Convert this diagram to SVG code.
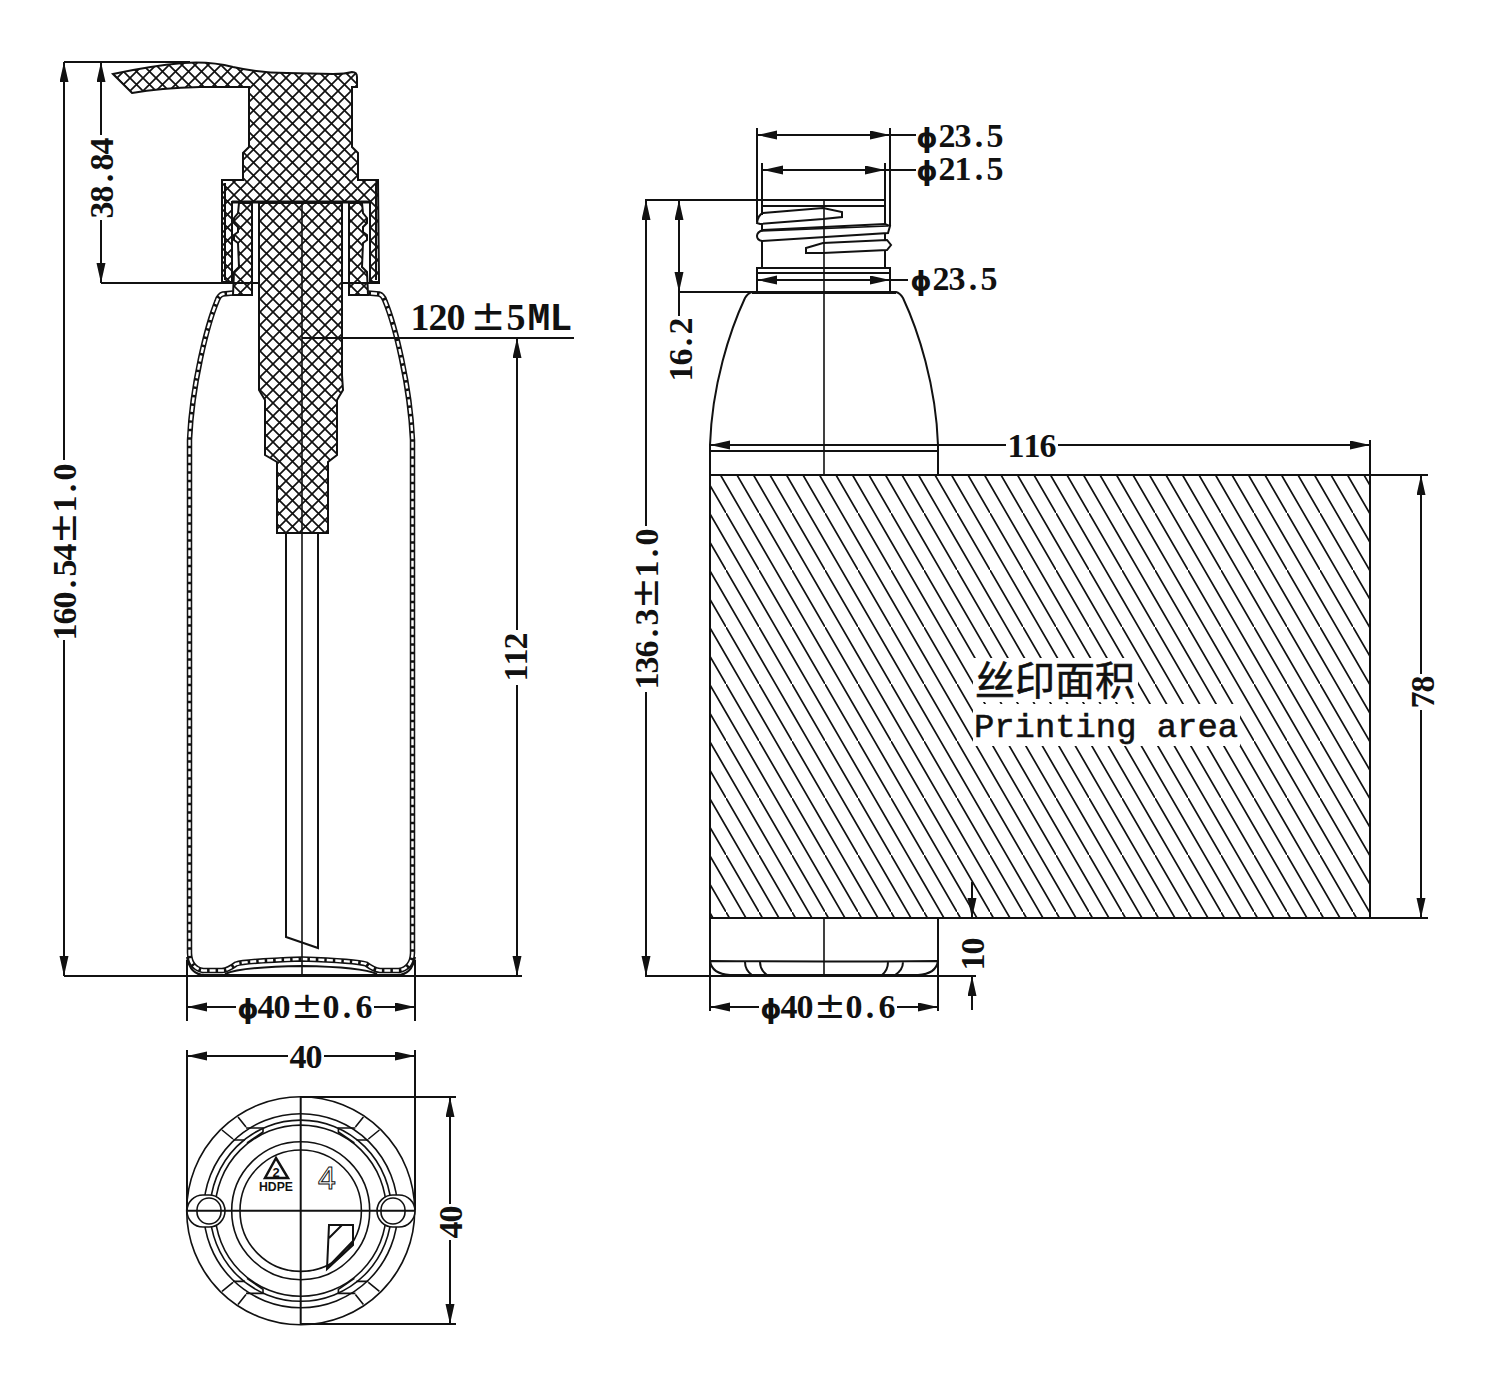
<svg xmlns="http://www.w3.org/2000/svg" width="1500" height="1387" viewBox="0 0 1500 1387">
<style>
.l{fill:none;stroke:#111;stroke-width:2}
.t1{fill:none;stroke:#111;stroke-width:1.6}
.h{stroke:#111;stroke-width:2;fill:url(#cross)}
.w{fill:#fff;stroke:#111;stroke-width:2}
.a{fill:none;stroke:#111;stroke-width:2;marker-start:url(#ar);marker-end:url(#ar)}
.e{fill:none;stroke:#111;stroke-width:2;marker-end:url(#ar)}
.wo{fill:none;stroke:#111;stroke-width:5.5}
.wi{fill:none;stroke:#fff;stroke-width:2.4;stroke-dasharray:6 2.5}
text{font-family:"Liberation Serif","Noto Sans CJK SC",serif;font-size:34px;font-weight:700;fill:#111;text-anchor:middle}
.pm{font-size:38px;font-family:"DejaVu Sans",sans-serif;font-weight:400}
.ph{font-family:"DejaVu Sans",sans-serif;font-size:27px;font-weight:700}
</style>
<defs>
<pattern id="cross" patternUnits="userSpaceOnUse" width="13" height="13"><rect width="13" height="13" fill="#fff"/><path d="M-1 -1L14 14M14 -1L-1 14" stroke="#111" stroke-width="1.7"/></pattern>
<pattern id="slant" patternUnits="userSpaceOnUse" width="33" height="57"><path d="M-33 -57L66 114M-16.5 -57L82.5 114M-49.5 -57L49.5 114" stroke="#111" stroke-width="1.7"/></pattern>
<marker id="ar" markerUnits="userSpaceOnUse" markerWidth="22" markerHeight="10" refX="20" refY="4.5" orient="auto-start-reverse"><path d="M0 0L20 4.5L0 9Z" fill="#111"/></marker>
<g id="quad"><path d="M238 1117L246 1127M222 1130L233 1139M246 1128H263V1132L247 1143M233 1140H245" class="t1"/></g>
</defs>
<rect width="1500" height="1387" fill="#fff"/>

<g id="front-view">
<path class="wo" d="M233 293L223 294Q219 295 217 301C207 325 192 385 189.5 440V953Q190 968 203 970.5H222Q228 970 236 964Q245 961 302 959Q357 961 366 964Q374 970 380 970.5H399Q412 968 412.5 953V440C410 385 395 325 385 301Q383 295 379 294L368 293"/>
<path class="wi" d="M233 293L223 294Q219 295 217 301C207 325 192 385 189.5 440V953Q190 968 203 970.5H222Q228 970 236 964Q245 961 302 959Q357 961 366 964Q374 970 380 970.5H399Q412 968 412.5 953V440C410 385 395 325 385 301Q383 295 379 294L368 293"/>
<path class="l" d="M187 957Q190 975 205 975H397Q412 975 415 957"/>
<path class="w" d="M225 974Q240 967 302 966Q362 967 377 974"/>
<path class="l" d="M286 533V937L318 948V533"/>
<path class="h" d="M113 74Q150 66 183 63Q210 61 233 67Q260 73 287 73L333 74Q345 74 352 72Q357 72 357 77V87H352V147L358 153V180H378L379 282H370V202H232V282H222V180H243V153L249 147V87H200Q160 88 132 93Z"/>
<path class="l" d="M225 183V280M376 183V280"/>
<path class="l" style="stroke-width:3" d="M232 202H370"/>
<path class="h" d="M252 203H239L238 213L234 218V223L238 227V232L234 235V240L238 243L239 267L234 272L233 295H252Z"/>
<path class="h" d="M349 203H362L363 213L367 218V223L363 227V232L367 235V240L363 243L362 267L367 272L368 295H349Z"/>
<path class="h" d="M259 203H342V375L343 390L337 400V455L328 462V533H277V462L265 455V400L259 390Z"/>
<path class="t1" d="M302 202V976"/>
</g>

<g id="side-view">
<path class="l" d="M757 292H752Q748 293 745 298C730 330 712 385 710 445V475M891 292H896Q900 293 903 298C918 330 936 385 938 445V475M710 451H938M710 475H1428M710 918H1428M710 475V976M1370 440V918M938 918V976"/>
<path class="l" d="M757 268H890V292H757ZM757 273H890M762 200H885V206H762ZM762 206V268M885 206V268M752 293H896"/>
<path class="w" d="M757 223Q758 215 763 213L823 208L842 212V217L823 219L760 224Z"/>
<path class="w" d="M757 236Q757 232 763 230L885 224L890 226L888 233L762 241Q757 240 757 236Z"/>
<path class="t1" d="M760 231L888 226"/>
<path class="w" d="M806 248L823 243L887 240L891 245L887 250L823 253L806 253Z"/>
<path class="t1" d="M824 200V475M824 918V976"/>
<rect x="710" y="475" width="660" height="443" fill="url(#slant)"/>
<path class="l" d="M710 475H1370V918H710Z"/>
<path class="l" d="M710 961Q824 962 938 961M710 961Q712 974 730 975H918Q936 974 938 961M710 976H938M745 962Q745 970 752 975M760 962Q760 970 767 975M888 962Q888 970 882 975M903 962Q903 970 895 975"/>
<rect x="973" y="658" width="165" height="44" fill="#fff"/>
<rect x="973" y="704" width="267" height="42" fill="#fff"/>
<text x="1055" y="695" style="font-size:40px;font-weight:400;font-family:'Noto Sans CJK SC',sans-serif;stroke:#111;stroke-width:.6">丝印面积</text>
<text x="1106" y="737" style="font-size:34px;font-weight:400;font-family:'Liberation Mono',monospace;stroke:#111;stroke-width:.6" textLength="264" lengthAdjust="spacingAndGlyphs">Printing area</text>
</g>

<g id="bottom-view">
<circle class="t1" cx="300.7" cy="1210.7" r="114"/>
<circle class="t1" cx="300.7" cy="1210.7" r="97"/>
<circle class="t1" cx="300.7" cy="1210.7" r="90.6"/>
<circle class="t1" cx="300.7" cy="1210.7" r="85.6"/>
<circle class="t1" cx="300.7" cy="1210.7" r="69"/>
<circle class="t1" cx="300.7" cy="1210.7" r="60.7"/>
<use href="#quad"/>
<use href="#quad" transform="matrix(-1 0 0 1 601.4 0)"/>
<use href="#quad" transform="matrix(1 0 0 -1 0 2421.4)"/>
<use href="#quad" transform="matrix(-1 0 0 -1 601.4 2421.4)"/>
<rect class="w" style="stroke-width:1.6" x="187" y="1195" width="38" height="32" rx="16"/>
<rect class="t1" x="197" y="1198" width="24" height="26" rx="12"/>
<rect class="w" style="stroke-width:1.6" x="377" y="1195" width="38" height="32" rx="16"/>
<rect class="t1" x="381" y="1198" width="24" height="26" rx="12"/>
<path class="l" d="M300.7 1097V1324M187 1210.7H415"/>
<path class="t1" d="M276 1158L265 1178H288Z" style="stroke-width:2.5"/>
<text x="276" y="1177" style="font-size:13px;font-family:'Liberation Sans',sans-serif">2</text>
<text x="276" y="1191" style="font-size:12px;font-family:'Liberation Sans',sans-serif" textLength="34" lengthAdjust="spacingAndGlyphs">HDPE</text>
<text x="327" y="1189" style="font-size:32px;font-weight:400;font-family:'Liberation Sans',sans-serif;fill:#fff;stroke:#111;stroke-width:1">4</text>
<path class="l" d="M329 1225H353V1245L327 1269ZM329 1238L342 1225M327 1268L353 1241"/>
</g>

<g id="connectors">
<path class="l" d="M64 62H190M64 976H522M101 283H259M342 283H380"/>
<path class="e" d="M64 460V62"/><path class="e" d="M64 640V976"/>
<path class="e" d="M101 135V62"/><path class="e" d="M101 220V283"/>
<path class="l" d="M302 338H574"/>
<path class="e" d="M517 630V338"/><path class="e" d="M517 685V976"/>
<path class="l" d="M187 960V1021M415 960V1021M187 1050V1210M415 1050V1210"/>
<path class="e" d="M236 1007H187"/><path class="e" d="M374 1007H415"/>
<path class="e" d="M288 1056H187"/><path class="e" d="M324 1056H415"/>
<path class="l" d="M300.7 1097H456M300.7 1324H456"/>
<path class="e" d="M450 1204V1097"/><path class="e" d="M450 1240V1324"/>
<path class="l" d="M645 200H885M678 292H757M757 222V128M890 226V128M762 215V163M885 215V163M890 135H916M885 170H916M890 280H908M645 976H976"/>
<path class="e" d="M646 526V200"/><path class="e" d="M646 692V976"/>
<path class="a" d="M679 200V292"/><path class="l" d="M679 292V316"/>
<path class="a" d="M757 135H890"/><path class="a" d="M763 170H885"/><path class="a" d="M757 280H890"/>
<path class="e" d="M1006 445H710"/><path class="e" d="M1058 445H1370"/>
<path class="e" d="M1421 674V475"/><path class="e" d="M1421 710V918"/>
<path class="e" d="M972 882V918"/><path class="e" d="M972 1010V976"/>
<path class="l" d="M710 976V1011M938 976V1011"/>
<path class="e" d="M759 1007H710"/><path class="e" d="M897 1007H938"/>
</g>

<g id="labels">
<text transform="translate(76 640) rotate(-90)"><tspan x="8 24 40 56 72 88">160.54</tspan><tspan class="pm" x="112">±</tspan><tspan x="136 152 168">1.0</tspan></text>
<text transform="translate(113 218) rotate(-90)" x="8 24 40 56 72">38.84</text>
<text y="330" style="font-size:38px"><tspan x="420 438 456">120</tspan><tspan style="font-size:42px;font-family:'DejaVu Sans',sans-serif;font-weight:400" x="488">±</tspan><tspan x="516">5</tspan><tspan style="font-family:'Liberation Mono',monospace" x="539 561">ML</tspan></text>
<text transform="translate(527 681) rotate(-90)" x="8 24 40">112</text>
<text y="1018"><tspan class="ph" x="248">ϕ</tspan><tspan x="266 282">40</tspan><tspan class="pm" x="307">±</tspan><tspan x="331 347 364">0.6</tspan></text>
<text y="1068" x="298 314">40</text>
<text transform="translate(462 1238) rotate(-90)" x="8 24">40</text>
<text y="147"><tspan class="ph" x="927">ϕ</tspan><tspan x="947 963 979 995">23.5</tspan></text>
<text y="180"><tspan class="ph" x="927">ϕ</tspan><tspan x="947 963 979 995">21.5</tspan></text>
<text y="290"><tspan class="ph" x="921">ϕ</tspan><tspan x="941 957 973 989">23.5</tspan></text>
<text transform="translate(692 381) rotate(-90)" x="8 24 39 55">16.2</text>
<text transform="translate(658 689) rotate(-90)"><tspan x="8 24 40 56 72">136.3</tspan><tspan class="pm" x="96">±</tspan><tspan x="120 136 152">1.0</tspan></text>
<text y="457" x="1016 1032 1048">116</text>
<text transform="translate(1434 708) rotate(-90)" x="8 24">78</text>
<text transform="translate(984 970) rotate(-90)" x="8 24">10</text>
<text y="1018"><tspan class="ph" x="771">ϕ</tspan><tspan x="789 805">40</tspan><tspan class="pm" x="830">±</tspan><tspan x="854 870 887">0.6</tspan></text>
</g>
</svg>
